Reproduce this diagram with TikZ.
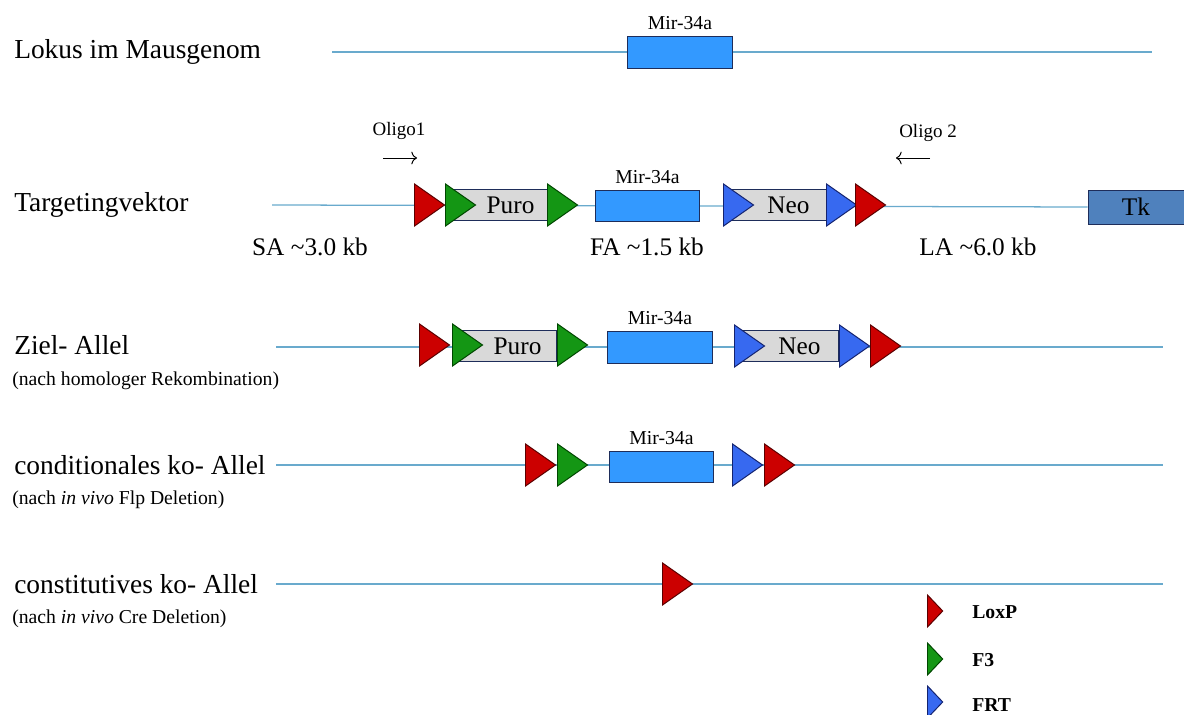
\documentclass[tikz,border=0pt]{standalone}
\usepackage{fontspec}
\setmainfont{Liberation Serif}
\usetikzlibrary{shapes.geometric, arrows.meta}
\definecolor{dnacol}{RGB}{105,170,205}
\definecolor{loxred}{RGB}{204,0,0}
\definecolor{loxdark}{RGB}{90,0,0}
\definecolor{fgreen}{RGB}{20,150,20}
\definecolor{fgdark}{RGB}{0,70,0}
\definecolor{frtblue}{RGB}{55,105,240}
\definecolor{frtdark}{RGB}{20,35,110}
\definecolor{mirblue}{RGB}{51,153,255}
\definecolor{boxdark}{RGB}{30,45,90}
\definecolor{selgrey}{RGB}{217,217,217}
\definecolor{tkblue}{RGB}{79,129,189}
\begin{document}
\begin{tikzpicture}%
	[x=0.025cm, y=-0.025cm,
	dna/.style = {draw=dnacol, line width=0.9pt},
	site/.style = {isosceles triangle, isosceles triangle stretches, shape border rotate=0,
		minimum width=1.05cm, minimum height=0.75cm, inner sep=0pt, anchor=west, line width=0.7pt},
	loxp/.style = {site, draw=loxdark, fill=loxred},
	fthree/.style = {site, draw=fgdark, fill=fgreen},
	frt/.style = {site, draw=frtdark, fill=frtblue},
	mir/.style = {rectangle, draw=boxdark, fill=mirblue, line width=0.7pt, minimum width=2.62cm, minimum height=0.78cm,
		label={[mirtext, label distance=1pt]above:Mir-34a}},
	mirtext/.style = {font=\fontsize{14}{16}\selectfont},
	sel/.style = {rectangle, draw=boxdark, fill=selgrey, line width=0.7pt, minimum width=2.45cm, minimum height=0.76cm,
		font=\fontsize{18}{20}\selectfont},
	big/.style = {anchor=west, inner sep=0pt, font=\fontsize{19.5}{23}\selectfont},
	small/.style = {anchor=west, inner sep=0pt, font=\fontsize{14}{16}\selectfont},
	arm/.style = {font=\fontsize{18}{20}\selectfont},
	oligo/.style = {font=\fontsize{13.5}{15}\selectfont},
	primer/.style = {-{To[length=4pt, width=9pt]}, line width=0.7pt},
	leg/.style = {anchor=west, inner sep=0pt, font=\bfseries\fontsize{14}{16}\selectfont}]
	\useasboundingbox (0,0) rectangle (1184,715);

	% Lokus
	\node[big] (lokus) at (14,52) {Lokus im Mausgenom};
	\coordinate (lokusW) at (332,52);
	\coordinate (lokusE) at (1152,52);
	\draw[dna] (lokusW) -- (lokusE);
	\node[mir] (mirL) at (680,52.5) {};

	% Targetingvektor
	\node[big] (vektor) at (14,205) {Targetingvektor};
	\node[rectangle, draw=boxdark, fill=tkblue, line width=0.7pt, minimum width=2.4cm, minimum height=0.85cm,
		font=\fontsize{18}{20}\selectfont] (tk) at (1136,207) {Tk};
	\coordinate (vektorW) at (272,205);
	\draw[dna] (vektorW) -- (tk.west);
	\node[sel] (puroV) at (500.5,205) {\hspace{0.5cm}Puro};
	\node[mir] (mirV) at (647.5,206) {};
	\node[sel] (neoV) at (778.5,205) {\hspace{0.5cm}Neo};
	\node[loxp] (loxV1) at (414,205) {};
	\node[fthree] (ftV1) at (445,205) {};
	\node[fthree] (ftV2) at (547,205) {};
	\node[frt] (frtV1) at (723,205) {};
	\node[frt] (frtV2) at (826,205) {};
	\node[loxp] (loxV2) at (855,205) {};
	\node[arm] (sa) at (310,247) {SA \textasciitilde3.0 kb};
	\node[arm] (fa) at (647,247) {FA \textasciitilde1.5 kb};
	\node[arm] (la) at (978,247) {LA \textasciitilde6.0 kb};

	% Oligos
	\node[oligo] (oligoA) at (399,131) {Oligo1};
	\coordinate (oligoAs) at (383,158);
	\coordinate (oligoAe) at (417,158);
	\draw[primer] (oligoAs) -- (oligoAe);
	\node[oligo] (oligoB) at (928,133) {Oligo 2};
	\coordinate (oligoBs) at (930,158);
	\coordinate (oligoBe) at (896,158);
	\draw[primer] (oligoBs) -- (oligoBe);

	% Ziel-Allel
	\node[big] (ziel) at (14,345) {Ziel- Allel};
	\node[small] (zielsub) at (12,381) {(nach homologer Rekombination)};
	\coordinate (zielW) at (276,347);
	\coordinate (zielE) at (1163,347);
	\draw[dna] (zielW) -- (zielE);
	\node[sel] (puroZ) at (507.5,346) {\hspace{0.5cm}Puro};
	\node[mir] (mirZ) at (660,347.5) {};
	\node[sel] (neoZ) at (789.5,346) {\hspace{0.5cm}Neo};
	\node[loxp] (loxZ1) at (419,345) {};
	\node[fthree] (ftZ1) at (452,345) {};
	\node[fthree] (ftZ2) at (557,345) {};
	\node[frt] (frtZ1) at (734,346) {};
	\node[frt] (frtZ2) at (839,346) {};
	\node[loxp] (loxZ2) at (870,346) {};

	% konditionales Allel
	\node[big] (cond) at (14,465) {conditionales ko- Allel};
	\node[small] (condsub) at (12,500) {(nach \textit{in vivo} Flp Deletion)};
	\coordinate (condW) at (276,465);
	\coordinate (condE) at (1163,465);
	\draw[dna] (condW) -- (condE);
	\node[mir] (mirC) at (661.5,467) {};
	\node[loxp] (loxC1) at (525,465) {};
	\node[fthree] (ftC1) at (557,465) {};
	\node[frt] (frtC1) at (732,465) {};
	\node[loxp] (loxC2) at (764,465) {};

	% konstitutives Allel
	\node[big] (const) at (14,584) {constitutives ko- Allel};
	\node[small] (constsub) at (12,619) {(nach \textit{in vivo} Cre Deletion)};
	\coordinate (constW) at (276,584);
	\coordinate (constE) at (1163,584);
	\draw[dna] (constW) -- (constE);
	\node[loxp] (loxK) at (662,584) {};

	% Legende
	\node[loxp, minimum width=0.8cm, minimum height=0.38cm] (legLox) at (927,611) {};
	\node[fthree, minimum width=0.8cm, minimum height=0.38cm] (legF) at (927,659) {};
	\node[frt, minimum width=0.8cm, minimum height=0.38cm] (legFrt) at (927,702) {};
	\node[leg] (legLoxT) at (972,612) {LoxP};
	\node[leg] (legFT) at (972,660) {F3};
	\node[leg] (legFrtT) at (972,705) {FRT};
\end{tikzpicture}
\end{document}
